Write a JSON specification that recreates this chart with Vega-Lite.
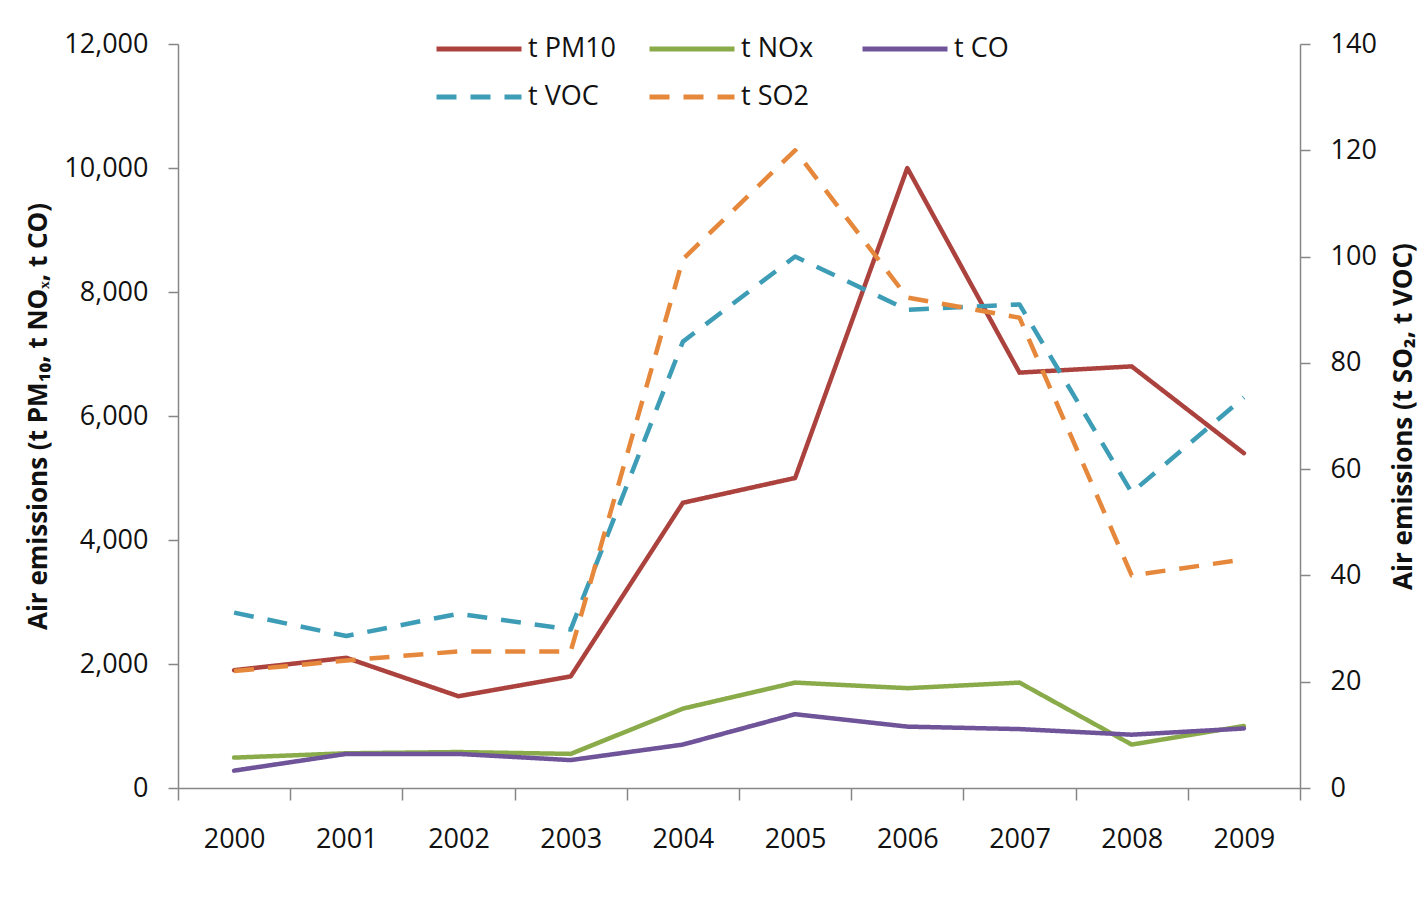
{
  "$schema": "https://vega.github.io/schema/vega-lite/v6.json",
  "width": 1122,
  "height": 744,
  "autosize": {"type": "none"},
  "padding": {"left": 178, "top": 44, "right": 128, "bottom": 111},
  "background": "white",
  "config": {
    "view": {"stroke": null},
    "font": "Open Sans",
    "axis": {
      "domainColor": "#868686",
      "tickColor": "#868686",
      "domainWidth": 1.5,
      "tickWidth": 1.5,
      "labelFont": "Open Sans",
      "labelFontSize": 27,
      "labelColor": "#111111",
      "titleFont": "Open Sans",
      "titleFontSize": 26,
      "titleFontWeight": "bold",
      "titleColor": "#111111",
      "grid": false
    }
  },
  "data": {
    "values": [
      {"year": "2000", "series": "t PM10", "value": 1900},
      {"year": "2001", "series": "t PM10", "value": 2100},
      {"year": "2002", "series": "t PM10", "value": 1480},
      {"year": "2003", "series": "t PM10", "value": 1800},
      {"year": "2004", "series": "t PM10", "value": 4600},
      {"year": "2005", "series": "t PM10", "value": 5000},
      {"year": "2006", "series": "t PM10", "value": 10000},
      {"year": "2007", "series": "t PM10", "value": 6700},
      {"year": "2008", "series": "t PM10", "value": 6800},
      {"year": "2009", "series": "t PM10", "value": 5400},
      {"year": "2000", "series": "t NOx", "value": 490},
      {"year": "2001", "series": "t NOx", "value": 560},
      {"year": "2002", "series": "t NOx", "value": 580},
      {"year": "2003", "series": "t NOx", "value": 550},
      {"year": "2004", "series": "t NOx", "value": 1280},
      {"year": "2005", "series": "t NOx", "value": 1700},
      {"year": "2006", "series": "t NOx", "value": 1610},
      {"year": "2007", "series": "t NOx", "value": 1700},
      {"year": "2008", "series": "t NOx", "value": 700},
      {"year": "2009", "series": "t NOx", "value": 1000},
      {"year": "2000", "series": "t CO", "value": 280},
      {"year": "2001", "series": "t CO", "value": 550},
      {"year": "2002", "series": "t CO", "value": 550},
      {"year": "2003", "series": "t CO", "value": 450},
      {"year": "2004", "series": "t CO", "value": 700},
      {"year": "2005", "series": "t CO", "value": 1190},
      {"year": "2006", "series": "t CO", "value": 990},
      {"year": "2007", "series": "t CO", "value": 950},
      {"year": "2008", "series": "t CO", "value": 860},
      {"year": "2009", "series": "t CO", "value": 960},
      {"year": "2000", "series": "t VOC", "value": 33},
      {"year": "2001", "series": "t VOC", "value": 28.6},
      {"year": "2002", "series": "t VOC", "value": 32.8},
      {"year": "2003", "series": "t VOC", "value": 29.8},
      {"year": "2004", "series": "t VOC", "value": 84},
      {"year": "2005", "series": "t VOC", "value": 100},
      {"year": "2006", "series": "t VOC", "value": 90},
      {"year": "2007", "series": "t VOC", "value": 91},
      {"year": "2008", "series": "t VOC", "value": 55.6},
      {"year": "2009", "series": "t VOC", "value": 73.5},
      {"year": "2000", "series": "t SO2", "value": 22},
      {"year": "2001", "series": "t SO2", "value": 24},
      {"year": "2002", "series": "t SO2", "value": 25.7},
      {"year": "2003", "series": "t SO2", "value": 25.7},
      {"year": "2004", "series": "t SO2", "value": 99.5},
      {"year": "2005", "series": "t SO2", "value": 120},
      {"year": "2006", "series": "t SO2", "value": 92.3},
      {"year": "2007", "series": "t SO2", "value": 88.5},
      {"year": "2008", "series": "t SO2", "value": 40},
      {"year": "2009", "series": "t SO2", "value": 43}
    ]
  },
  "encoding": {
    "x": {
      "field": "year",
      "type": "ordinal",
      "bandPosition": 0.5,
      "scale": {"type": "band", "paddingInner": 0, "paddingOuter": 0},
      "axis": {
        "title": null,
        "labelAngle": 0,
        "tickBand": "extent",
        "tickSize": 12,
        "labelPadding": 26
      }
    },
    "color": {
      "field": "series",
      "type": "nominal",
      "scale": {
        "domain": ["t PM10", "t NOx", "t CO", "t VOC", "t SO2"],
        "range": ["#AB423E", "#8AAB4A", "#70549A", "#3E9DB6", "#E6883C"]
      },
      "legend": {
        "title": null,
        "orient": "none",
        "legendX": 256,
        "legendY": -10,
        "padding": 0,
        "clipHeight": 30,
        "columns": 3,
        "direction": "horizontal",
        "gridAlign": "all",
        "columnPadding": 30,
        "rowPadding": 18,
        "symbolType": "M-1,0H1",
        "symbolSize": 7225,
        "symbolStrokeWidth": 5,
        "labelFont": "Open Sans",
        "labelFontSize": 27,
        "labelColor": "#111111",
        "labelOffset": 4,
        "labelLimit": 300
      }
    },
    "strokeDash": {
      "field": "series",
      "type": "nominal",
      "scale": {
        "domain": ["t PM10", "t NOx", "t CO", "t VOC", "t SO2"],
        "range": [[1, 0], [1, 0], [1, 0], [20, 14], [20, 14]]
      },
      "legend": {
        "title": null,
        "orient": "none",
        "legendX": 256,
        "legendY": -10,
        "padding": 0,
        "clipHeight": 30,
        "columns": 3,
        "direction": "horizontal",
        "gridAlign": "all",
        "columnPadding": 30,
        "rowPadding": 18,
        "symbolType": "M-1,0H1",
        "symbolSize": 7225,
        "symbolStrokeWidth": 5,
        "labelFont": "Open Sans",
        "labelFontSize": 27,
        "labelColor": "#111111",
        "labelOffset": 4,
        "labelLimit": 300
      }
    }
  },
  "layer": [
    {
      "transform": [{"filter": {"field": "series", "oneOf": ["t PM10", "t NOx", "t CO"]}}],
      "mark": {"type": "line", "strokeWidth": 4.5, "strokeCap": "round", "strokeJoin": "round"},
      "encoding": {
        "y": {
          "field": "value",
          "type": "quantitative",
          "scale": {"domain": [0, 12000], "nice": false},
          "axis": {
            "orient": "left",
            "title": "Air emissions (t PM₁₀, t NOₓ, t CO)",
            "values": [0, 2000, 4000, 6000, 8000, 10000, 12000],
            "format": ",.0f",
            "formatType": "number",
            "tickSize": 10,
            "labelPadding": 20,
            "titlePadding": 12
          }
        }
      }
    },
    {
      "transform": [{"filter": {"field": "series", "oneOf": ["t VOC", "t SO2"]}}],
      "mark": {"type": "line", "strokeWidth": 4.5, "strokeCap": "butt", "strokeJoin": "round"},
      "encoding": {
        "y": {
          "field": "value",
          "type": "quantitative",
          "scale": {"domain": [0, 140], "nice": false},
          "axis": {
            "orient": "right",
            "title": "Air emissions (t SO₂, t VOC)",
            "titleAngle": 270,
            "titleBaseline": "top",
            "values": [0, 20, 40, 60, 80, 100, 120, 140],
            "format": "d",
            "tickSize": 10,
            "labelPadding": 20,
            "titlePadding": 14
          }
        }
      }
    }
  ],
  "resolve": {"scale": {"y": "independent"}}
}
